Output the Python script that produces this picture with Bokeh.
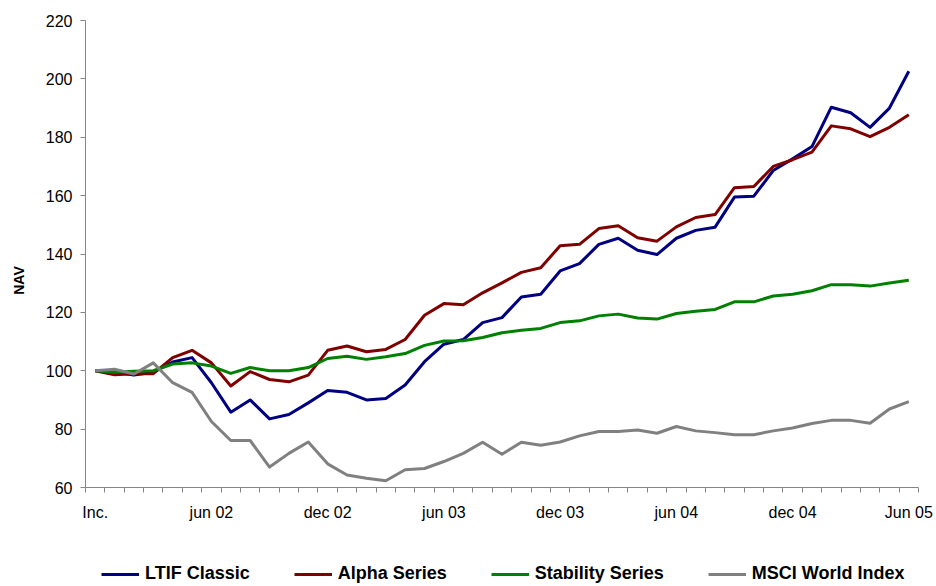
from math import pi
from bokeh.plotting import figure
from bokeh.models import Range1d, FixedTicker, Legend, LegendItem, Label
from bokeh.embed import file_html
from bokeh.resources import INLINE

# ---- data (monthly NAV, Inc. = 100) ----
ltif_classic = [100, 99.5, 98.5, 99.5, 103, 104.5, 95.9, 85.8, 90, 83.5, 85, 89, 93.2, 92.6, 90,
                90.5, 95.1, 103.1, 109.1, 110.7, 116.5, 118.2, 125.3, 126.2, 134.2, 136.7, 143.3,
                145.4, 141.3, 139.8, 145.4, 148.1, 149.2, 159.5, 159.8, 168.6, 172.6, 176.8,
                190.3, 188.4, 183.4, 190.0, 202.6]
alpha_series = [100, 98.6, 99, 99, 104.5, 107, 102.7, 94.8, 99.7, 97, 96.2, 98.5, 107, 108.5, 106.5,
                107.3, 110.7, 119, 123, 122.6, 126.7, 130.1, 133.7, 135.3, 142.8, 143.3, 148.7,
                149.7, 145.6, 144.4, 149.3, 152.5, 153.5, 162.7, 163.1, 170, 172.3, 174.9,
                183.9, 182.9, 180.2, 183.4, 187.7]
stability_series = [100, 99.5, 99.8, 100, 102.3, 102.7, 101.6, 99.1, 101.1, 100, 100, 101.1, 104.2,
                    105, 103.9, 104.8, 105.9, 108.7, 110.2, 110.3, 111.4, 113, 113.9, 114.5, 116.5,
                    117.1, 118.8, 119.4, 118.1, 117.7, 119.6, 120.4, 121, 123.6, 123.6, 125.6,
                    126.2, 127.4, 129.5, 129.5, 129, 130.1, 131]
msci_world = [100, 100.5, 98.9, 102.7, 95.9, 92.6, 82.6, 76.1, 76.1, 67, 71.7, 75.6, 68.1, 64.3,
              63.2, 62.3, 66.1, 66.5, 68.9, 71.7, 75.5, 71.4, 75.5, 74.5, 75.6, 77.7, 79.2, 79.2,
              79.7, 78.6, 80.9, 79.4, 78.8, 78.1, 78.1, 79.4, 80.4, 81.9, 83, 83, 82, 86.9, 89.4]

series_names = ["LTIF Classic", "Alpha Series", "Stability Series", "MSCI World Index"]
series_colors = ["#000080", "#800000", "#008000", "#808080"]

x_labels = ["Inc.", "jun 02", "dec 02", "jun 03", "dec 03", "jun 04", "dec 04", "Jun 05"]
label_step = 6
y_ticks = [60, 80, 100, 120, 140, 160, 180, 200, 220]

FONT = "Liberation Sans"
AXIS_COLOR = "#868686"

# ---- layout (pixels): canvas = frame; plot area placed inside it ----
W, H = 936, 586
PLOT_L, PLOT_T, PLOT_W, PLOT_H = 85, 20, 833, 467

n = len(ltif_classic)
x = list(range(n))
x_lo, x_hi = -0.5, n - 0.5
y_lo, y_hi = y_ticks[0], y_ticks[-1]
ux = (x_hi - x_lo) / PLOT_W
uy = (y_hi - y_lo) / PLOT_H
x_range = Range1d(x_lo - PLOT_L * ux, x_hi + (W - PLOT_L - PLOT_W) * ux)
y_range = Range1d(y_lo - (H - PLOT_T - PLOT_H) * uy, y_hi + PLOT_T * uy)

p = figure(frame_width=W, frame_height=H, output_backend="svg", toolbar_location=None,
           x_range=x_range, y_range=y_range,
           min_border_left=0, min_border_right=0, min_border_top=0, min_border_bottom=0)
p.outline_line_color = None
p.grid.visible = False
p.background_fill_color = "white"
p.border_fill_color = "white"

renderers = []
for vals, col in zip([ltif_classic, alpha_series, stability_series, msci_world], series_colors):
    r = p.line(x, vals, line_color=col, line_width=3, line_join="round")
    renderers.append(r)

# x axis (Excel-like: ticks between categories), fixed at y = 60
xa = p.xaxis[0]
xa.fixed_location = y_lo
xa.bounds = (x_lo, x_hi)
label_pos = [i * label_step for i in range(len(x_labels))]
xa.ticker = FixedTicker(ticks=label_pos, minor_ticks=[i - 0.5 for i in range(n + 1)])
xa.major_label_overrides = {pos: lab for pos, lab in zip(label_pos, x_labels)}
xa.major_tick_line_color = None
xa.minor_tick_line_color = AXIS_COLOR
xa.minor_tick_out = 5
xa.minor_tick_in = 0
xa.axis_line_color = AXIS_COLOR
xa.major_label_text_font = FONT
xa.major_label_text_font_size = "16px"
xa.major_label_text_color = "black"
xa.major_label_standoff = 10

# y axis, fixed at the left edge of the category range
ya = p.yaxis[0]
ya.fixed_location = x_lo
ya.bounds = (y_lo, y_hi)
ya.ticker = FixedTicker(ticks=y_ticks)
ya.minor_tick_line_color = None
ya.major_tick_line_color = AXIS_COLOR
ya.major_tick_out = 5
ya.major_tick_in = 0
ya.axis_line_color = AXIS_COLOR
ya.major_label_text_font = FONT
ya.major_label_text_font_size = "16px"
ya.major_label_text_color = "black"
ya.major_label_standoff = 8

nav_label = Label(x=18, y=H - 280, x_units="screen", y_units="screen", text="NAV", angle=pi / 2,
                  text_align="center", text_baseline="middle", text_font=FONT,
                  text_font_size="14px", text_font_style="bold", text_color="black")
p.add_layout(nav_label)

legend = Legend(items=[LegendItem(label=nm, renderers=[r]) for nm, r in zip(series_names, renderers)],
                orientation="horizontal", location=(PLOT_L + 16, 2),
                glyph_width=38, glyph_height=20, label_standoff=6, spacing=44,
                padding=0, margin=0, border_line_color=None, background_fill_alpha=0,
                label_text_font=FONT, label_text_font_size="18px", label_text_font_style="bold",
                label_text_color="black")
p.add_layout(legend)

open("out.html", "w").write(file_html(p, INLINE))
